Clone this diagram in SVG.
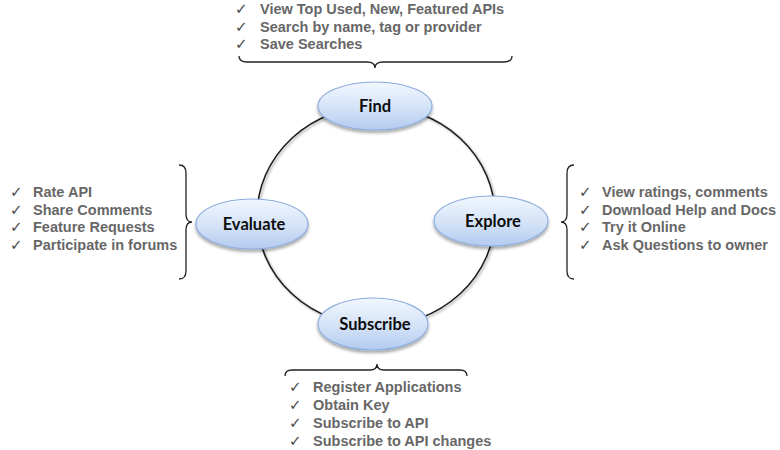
<svg xmlns="http://www.w3.org/2000/svg" width="780" height="450" viewBox="0 0 780 450">
<style>
.list{font-family:"Liberation Sans",Arial,sans-serif;font-weight:bold;font-size:14.5px;fill:#676767}
.chk{font-family:"DejaVu Sans",sans-serif;font-size:15px;fill:#4a4a4a}
.lbl{font-family:Lato,"Open Sans",sans-serif;font-weight:bold;font-size:16.5px;fill:#0d0d0d;text-anchor:middle}
.node{fill:url(#g);stroke:#8eaedd;stroke-width:1.2;filter:url(#sh)}
.arc{fill:none;stroke:#1e1e1e;stroke-width:1.6;filter:url(#lsh)}
.brace{fill:none;stroke:#222;stroke-width:1.3}
</style>
<defs>
<linearGradient id="g" x1="0" y1="0" x2="0" y2="1">
<stop offset="0" stop-color="#f2f7fe"/>
<stop offset="0.5" stop-color="#d6e4f8"/>
<stop offset="1" stop-color="#b3cbef"/>
</linearGradient>
<filter id="sh" x="-20%" y="-20%" width="140%" height="160%">
<feDropShadow dx="0" dy="2.5" stdDeviation="1.8" flood-color="#000" flood-opacity="0.35"/>
</filter>
<filter id="lsh" x="-10%" y="-10%" width="120%" height="120%">
<feDropShadow dx="1.5" dy="1.5" stdDeviation="1" flood-color="#000" flood-opacity="0.35"/>
</filter>
</defs>
<rect width="780" height="450" fill="#fff"/>

<g id="connectors">
<path class="arc" d="M376,106 A119,110 0 0 1 495,216"/>
<path class="arc" d="M495,216 A119,110 0 0 1 376,326"/>
<path class="arc" d="M376,326 A119,110 0 0 1 257,216"/>
<path class="arc" d="M257,216 A119,110 0 0 1 376,106"/>
</g>

<g id="find">
<ellipse class="node" cx="375" cy="106" rx="57" ry="24"/>
<text class="lbl" x="375" y="112">Find</text>
</g>
<g id="evaluate">
<ellipse class="node" cx="252" cy="224" rx="56" ry="25"/>
<text class="lbl" x="254" y="230">Evaluate</text>
</g>
<g id="explore">
<ellipse class="node" cx="491" cy="221" rx="57" ry="25"/>
<text class="lbl" x="493" y="227">Explore</text>
</g>
<g id="subscribe">
<ellipse class="node" cx="373" cy="324" rx="55" ry="26"/>
<text class="lbl" x="375" y="330">Subscribe</text>
</g>

<g id="find-list">
<path class="brace" d="M239,56 Q239,62 247,62 L367,62 Q375,62 375,68 Q375,62 383,62 L504,62 Q512,62 512,56"/>
<text class="chk" x="235" y="14">✓</text><text class="list" x="260" y="14">View Top Used, New, Featured APIs</text>
<text class="chk" x="235" y="32">✓</text><text class="list" x="260" y="32">Search by name, tag or provider</text>
<text class="chk" x="235" y="49">✓</text><text class="list" x="260" y="49">Save Searches</text>
</g>

<g id="evaluate-list">
<path class="brace" d="M179,165 Q186,165 186,173 L186,214 Q186,222 192,222 Q186,222 186,230 L186,271 Q186,279 179,279"/>
<text class="chk" x="10" y="197">✓</text><text class="list" x="33" y="197">Rate API</text>
<text class="chk" x="10" y="215">✓</text><text class="list" x="33" y="215">Share Comments</text>
<text class="chk" x="10" y="232">✓</text><text class="list" x="33" y="232">Feature Requests</text>
<text class="chk" x="10" y="250">✓</text><text class="list" x="33" y="250">Participate in forums</text>
</g>

<g id="explore-list">
<path class="brace" d="M574,165 Q567,165 567,173 L567,214 Q567,222 561,222 Q567,222 567,230 L567,271 Q567,279 574,279"/>
<text class="chk" x="579" y="197">✓</text><text class="list" x="602" y="197">View ratings, comments</text>
<text class="chk" x="579" y="215">✓</text><text class="list" x="602" y="215">Download Help and Docs</text>
<text class="chk" x="579" y="232">✓</text><text class="list" x="602" y="232">Try it Online</text>
<text class="chk" x="579" y="250">✓</text><text class="list" x="602" y="250">Ask Questions to owner</text>
</g>

<g id="subscribe-list">
<path class="brace" d="M285,376 Q285,370 292,370 L370,370 Q377,370 377,364 Q377,370 384,370 L460,370 Q467,370 467,376"/>
<text class="chk" x="289" y="392">✓</text><text class="list" x="313" y="392">Register Applications</text>
<text class="chk" x="289" y="410">✓</text><text class="list" x="313" y="410">Obtain Key</text>
<text class="chk" x="289" y="428">✓</text><text class="list" x="313" y="428">Subscribe to API</text>
<text class="chk" x="289" y="446">✓</text><text class="list" x="313" y="446">Subscribe to API changes</text>
</g>
</svg>
